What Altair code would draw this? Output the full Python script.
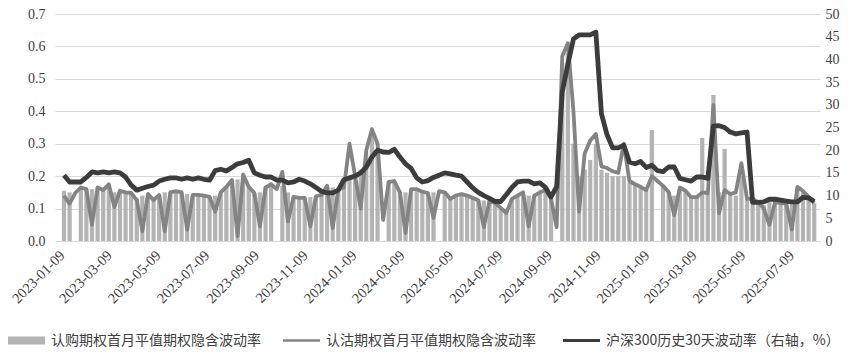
import altair as alt
import pandas as pd

# ---------------- data (weekly readings, Wednesdays) ----------------
start_week = "2023-01-11"
n_weeks = 135

call_iv = [
    0.155, 0.15, None, 0.165, 0.16, 0.16, 0.165, 0.157, 0.175, 0.15,
    0.155, 0.15, 0.148, 0.13, 0.14, 0.145, 0.13, 0.142, 0.15, 0.15,
    0.154, 0.15, 0.145, 0.142, 0.142, 0.14, 0.136, 0.14, 0.15, 0.167,
    0.188, 0.19, 0.2, 0.167, 0.148, 0.15, 0.165, 0.175, None, 0.17,
    0.15, 0.136, 0.133, 0.133, 0.135, 0.138, 0.142, 0.17, 0.165, 0.16,
    0.165, 0.2, 0.2, 0.22, 0.27, 0.33, 0.28, None, 0.182, 0.185,
    0.15, 0.15, 0.16, 0.16, 0.152, 0.148, 0.15, None, 0.15, 0.13,
    0.14, 0.145, 0.14, 0.133, 0.126, 0.125, 0.124, 0.117, 0.105, 0.1,
    0.13, 0.14, 0.15, 0.14, 0.14, 0.15, 0.157, 0.13, None, 0.55,
    0.58, 0.3, 0.2, 0.22, 0.25, 0.3, 0.22, 0.21, 0.2, 0.2,
    0.2, 0.18, 0.175, 0.167, 0.157, 0.342, None, 0.17, 0.151, 0.14,
    0.16, 0.15, 0.135, 0.135, 0.318, 0.148, 0.45, 0.15, 0.284, 0.145,
    0.14, 0.2, 0.13, 0.13, 0.12, 0.11, 0.12, 0.12, 0.117, 0.115,
    0.12, 0.16, 0.15, 0.136, 0.117,
]

put_iv = [
    0.14, 0.115, 0.148, 0.165, 0.16, 0.05, 0.165, 0.157, 0.175, 0.105,
    0.155, 0.15, 0.148, 0.126, 0.03, 0.145, 0.126, 0.142, 0.03, 0.15,
    0.154, 0.15, 0.035, 0.142, 0.142, 0.14, 0.136, 0.09, 0.15, 0.167,
    0.188, 0.015, 0.205, 0.167, 0.148, 0.045, 0.165, 0.175, 0.16, 0.213,
    0.06, 0.136, 0.133, 0.133, 0.045, 0.138, 0.142, 0.17, 0.04, 0.16,
    0.165, 0.3, 0.2, 0.1, 0.28, 0.345, 0.3, 0.065, 0.182, 0.185,
    0.15, 0.025, 0.16, 0.16, 0.152, 0.148, 0.071, 0.154, 0.15, 0.13,
    0.14, 0.145, 0.14, 0.133, 0.126, 0.043, 0.124, 0.117, 0.102, 0.086,
    0.13, 0.14, 0.15, 0.045, 0.14, 0.15, 0.157, 0.13, 0.043, 0.57,
    0.61, 0.4, 0.09, 0.27, 0.31, 0.33, 0.23, 0.225, 0.215, 0.21,
    0.3, 0.185, 0.175, 0.167, 0.157, 0.2, 0.185, 0.17, 0.151, 0.08,
    0.165, 0.155, 0.135, 0.135, 0.15, 0.148, 0.42, 0.086, 0.157, 0.145,
    0.15, 0.24, 0.13, 0.13, 0.12, 0.1, 0.05, 0.12, 0.117, 0.115,
    0.035, 0.167, 0.154, 0.136, 0.117,
]

hs300_hv = [
    14.5, 13, 13, 13, 14, 15.2, 15, 15.2, 15, 15.2,
    15, 14.1, 12.3, 11.2, 11.6, 12, 12.3, 13.2, 13.6, 13.9,
    13.9, 13.6, 13.9, 13.6, 13.9, 13.6, 13.4, 15.5, 15.8, 15.4,
    16.2, 17, 17.3, 17.8, 15, 14.5, 14.1, 14.1, 13.4, 13.4,
    12.8, 13, 13.6, 13.2, 12.6, 11.8, 10.9, 10.6, 10.6, 11.2,
    13.5, 13.9, 14.3, 15, 16.3, 18.5, 20, 19.6, 19.5, 20.2,
    18.5, 17, 16, 13.9, 13, 13.3, 14, 14.5, 15, 14.8,
    14.5, 14.3, 13, 11.7, 10.7, 10, 9.4, 8.7, 8.7, 10.2,
    11.8, 13, 13.2, 13.2, 12.6, 12.8, 11.8, 9.7, 12, 32.8,
    39, 44.5, 45.4, 45.4, 45.4, 46, 28, 23.4, 20.5, 20.5,
    21.1, 17.4, 17, 17.5, 16.2, 16.7, 15.5, 15.3, 16.3, 16.3,
    13.8, 13.5, 13.2, 14.1, 14.1, 13.8, 25.3, 25.4, 25, 24,
    23.6, 23.8, 24, 8.5, 8.5, 8.6, 9.2, 9.2, 9, 8.8,
    8.6, 8.6, 9.6, 9.5, 8.7,
]

tick_labels = [
    "2023-01-09", "2023-03-09", "2023-05-09", "2023-07-09", "2023-09-09", "2023-11-09",
    "2024-01-09", "2024-03-09", "2024-05-09", "2024-07-09", "2024-09-09", "2024-11-09",
    "2025-01-09", "2025-03-09", "2025-05-09", "2025-07-09",
]
left_ticks = [0.0, 0.1, 0.2, 0.3, 0.4, 0.5, 0.6, 0.7]
right_ticks = [0, 5, 10, 15, 20, 25, 30, 35, 40, 45, 50]
x_domain = ["2023-01-06", "2025-08-07"]

name_call = "认购期权首月平值期权隐含波动率"
name_put = "认沽期权首月平值期权隐含波动率"
name_hs = "沪深300历史30天波动率（右轴，%）"

# ---------------- styling ----------------
BAR = "#b3b3b3"
PUT = "#848484"
HS = "#3c3c3c"
TXT = "#404040"
NUMFONT = "Liberation Serif"
CJK = "Noto Sans CJK SC"


def dt(s):
    y, m, d = (int(v) for v in s.split("-"))
    return alt.DateTime(year=y, month=m, date=d, utc=True)


dates = pd.date_range(start_week, periods=n_weeks, freq="7D").strftime("%Y-%m-%d")
df = pd.DataFrame({
    "date": dates,
    "call": call_iv,
    "put": put_iv,
    "hs": hs300_hv,
    "s_call": name_call,
    "s_put": name_put,
    "s_hs": name_hs,
})

x_enc = alt.X(
    "date:T",
    scale=alt.Scale(type="utc", domain=[dt(x_domain[0]), dt(x_domain[1])]),
    axis=alt.Axis(
        values=[dt(s) for s in tick_labels],
        labelExpr="utcFormat(datum.value, '%Y-%m-%d')",
        labelAngle=315,
        labelAlign="right",
        labelBaseline="middle",
        labelPadding=12,
        labelFont=NUMFONT,
        labelFontSize=14.5,
        labelColor=TXT,
        labelOverlap=False,
        labelFlush=False,
        grid=False,
        domain=False,
        ticks=False,
        title=None,
    ),
)

left_axis = alt.Axis(
    values=left_ticks,
    format=".1f",
    grid=True,
    gridColor="#d9d9d9",
    gridWidth=1,
    domain=False,
    ticks=False,
    labelPadding=10,
    labelFont=NUMFONT,
    labelFontSize=14,
    labelColor=TXT,
    title=None,
)
left_scale = alt.Scale(domain=[0, 0.7], nice=False)

right_axis = alt.Axis(
    orient="right",
    values=right_ticks,
    grid=False,
    domain=False,
    ticks=False,
    labelPadding=5,
    labelFont=NUMFONT,
    labelFontSize=14,
    labelColor=TXT,
    title=None,
)


def legend(x, symbol, color):
    return alt.Legend(
        title=None,
        orient="none",
        legendX=x,
        legendY=308,
        padding=0,
        symbolType=symbol,
        symbolSize=1369,
        symbolFillColor=color,
        symbolStrokeColor=color,
        symbolStrokeWidth=0,
        symbolOpacity=1,
        labelFont=CJK,
        labelFontSize=14,
        labelColor=TXT,
        labelOffset=6,
        labelLimit=0,
    )


base = alt.Chart(df)

bars = base.mark_bar(width=4.2).encode(
    x=x_enc,
    y=alt.Y("call:Q", scale=left_scale, axis=left_axis),
    color=alt.Color(
        "s_call:N",
        scale=alt.Scale(domain=[name_call], range=[BAR]),
        legend=legend(-47, "M-1,-0.22H1V0.22H-1Z", BAR),
    ),
)

put_line = base.mark_line(strokeWidth=3.8, strokeJoin="round").encode(
    x=x_enc,
    y=alt.Y("put:Q", scale=left_scale, axis=left_axis),
    color=alt.Color(
        "s_put:N",
        scale=alt.Scale(domain=[name_put], range=[PUT]),
        legend=legend(228, "M-1,-0.065H1V0.065H-1Z", PUT),
    ),
)

hs_line = base.mark_line(strokeWidth=4.8, strokeJoin="round").encode(
    x=x_enc,
    y=alt.Y("hs:Q", scale=alt.Scale(domain=[0, 50], nice=False), axis=right_axis),
    color=alt.Color(
        "s_hs:N",
        scale=alt.Scale(domain=[name_hs], range=[HS]),
        legend=legend(508, "M-1,-0.075H1V0.075H-1Z", HS),
    ),
)

left = alt.layer(bars, put_line).resolve_scale(color="independent")

chart = (
    alt.layer(left, hs_line)
    .resolve_scale(y="independent", color="independent")
    .properties(
        width=765,
        height=227,
        autosize=alt.AutoSizeParams(type="none"),
        padding={"left": 47, "top": 6, "right": 27, "bottom": 108},
        background="white",
    )
    .configure_view(stroke=None)
)

chart.save("out.html", embed_options={"renderer": "svg", "actions": False})
